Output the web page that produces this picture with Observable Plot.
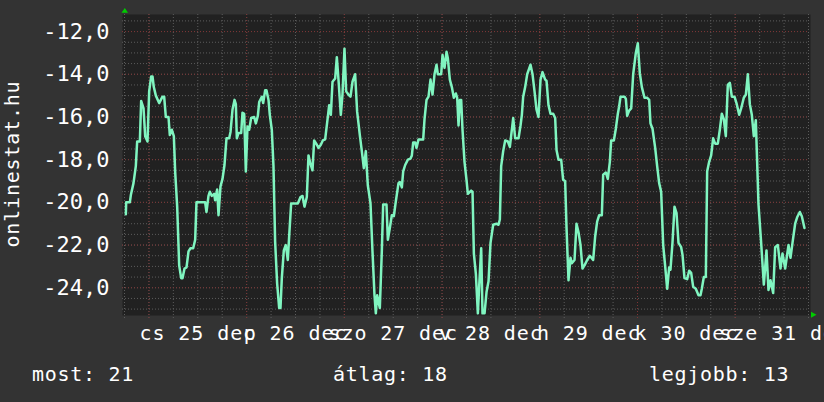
<!DOCTYPE html>
<html>
<head>
<meta charset="utf-8">
<script src="https://cdn.jsdelivr.net/npm/d3@7"></script>
<script src="https://cdn.jsdelivr.net/npm/@observablehq/plot@0.6"></script>
<style>
  html, body { margin: 0; padding: 0; background: #333333; overflow: hidden; }
  #chart svg { display: block; overflow: hidden; }
  g[aria-label="x-axis tick label"] text { letter-spacing: 0.9px; }
  .mono { font-family: "DejaVu Sans Mono", monospace; }
</style>
</head>
<body>
<div id="chart"></div>
<script>
// hours since Dec 24 18:00
const hours = [0.33,0.41,1.31,1.56,2.21,2.78,3.11,3.77,4.09,4.67,5.08,5.65,6.06,6.55,6.88,7.20,7.70,8.51,9.33,9.74,10.15,10.81,11.13,11.63,12.12,12.44,12.94,13.43,13.92,14.25,14.74,15.23,15.72,16.21,16.87,17.36,17.68,19.81,20.14,20.63,20.96,21.45,22.02,22.27,22.76,23.09,23.58,24.07,24.56,25.05,25.71,26.04,26.53,27.02,27.35,27.59,28.00,28.66,28.98,29.39,29.80,30.21,30.62,31.11,31.85,32.26,32.75,33.08,33.73,34.06,34.55,34.87,35.37,35.69,36.18,36.59,37.0,37.49,37.99,38.31,38.64,39.13,39.62,40.11,40.52,40.93,42.57,43.23,43.72,44.21,44.78,45.19,45.68,46.17,46.58,47.24,47.65,48.22,48.71,49.28,49.94,50.27,50.68,51.09,51.74,52.15,52.56,53.13,53.54,54.03,54.44,55.0,55.51,56.0,56.65,57.14,57.8,58.29,58.78,59.27,59.76,60.42,60.91,61.4,61.73,62.06,62.71,63.2,63.53,64.35,64.68,65.17,65.66,66.15,66.64,67.3,67.63,68.12,68.45,68.94,69.6,70.25,70.58,70.9,71.4,71.72,72.21,73.36,73.69,74.18,74.67,75.16,75.65,76.14,76.64,76.96,77.78,78.11,78.6,79.09,79.42,79.91,80.4,80.89,81.38,81.71,82.04,82.37,82.69,83.02,83.51,84.0,84.33,85.15,85.48,85.81,86.3,86.79,87.12,87.61,87.93,88.43,88.92,89.41,89.9,90.55,91.37,91.86,92.19,92.52,93.01,93.5,94.16,94.65,95.47,95.96,96.78,97.27,97.6,97.92,98.41,98.91,99.72,100.22,100.71,101.19,101.68,102.18,102.67,103.32,103.65,104.14,104.63,105.29,105.78,106.11,106.6,107.25,107.74,108.23,108.56,109.05,109.54,109.87,110.53,111.02,111.51,112.0,112.49,112.98,113.64,114.29,115.11,115.6,116.09,116.59,117.24,117.57,118.22,118.71,119.21,119.53,120.19,120.68,121.17,121.5,121.83,122.81,123.14,123.46,123.95,124.45,124.94,125.59,126.08,126.57,127.07,127.72,128.38,128.87,129.19,129.69,130.34,130.83,131.32,131.81,132.31,132.8,133.29,133.78,134.1,134.59,135.09,135.58,136.07,136.72,137.05,137.54,138.2,138.69,139.18,139.67,140.32,140.98,141.47,141.8,142.29,142.78,143.11,143.6,144.09,144.58,145.07,145.73,146.22,146.71,147.2,147.69,148.18,148.68,149.17,149.82,150.31,150.97,151.46,152.11,152.61,153.1,153.59,154.08,154.57,155.06,155.72,156.37,157.03,157.68,158.17,158.66,159.32,159.81,160.47,161.12,161.61,162.27,163.09,163.58,164.07,164.72,165.21,165.87,166.36,167.01];
const temps = [-20.56,-20.0,-20.0,-19.66,-19.1,-18.3,-17.15,-17.15,-15.25,-15.6,-16.9,-17.15,-14.8,-14.1,-14.1,-14.6,-15.0,-15.35,-15.05,-15.05,-16.0,-16.0,-16.85,-16.6,-16.9,-18.55,-20.2,-22.95,-23.55,-23.55,-23.1,-23.05,-22.3,-22.15,-22.15,-21.75,-20.0,-20.0,-20.45,-19.7,-19.5,-19.7,-19.6,-19.9,-19.4,-20.6,-19.25,-18.9,-18.25,-17.0,-17.0,-16.7,-15.65,-15.2,-15.4,-17.0,-16.75,-16.75,-15.8,-15.85,-18.55,-16.45,-16.6,-16.05,-16.0,-16.3,-15.95,-15.3,-15.05,-15.35,-14.75,-14.75,-15.2,-15.9,-16.6,-18.3,-21.85,-23.8,-24.95,-24.95,-23.55,-22.25,-22.0,-22.7,-21.35,-20.05,-20.05,-19.75,-19.7,-20.2,-19.75,-17.8,-18.2,-18.5,-17.1,-17.3,-17.45,-17.3,-17.1,-17.05,-16.0,-15.45,-15.9,-14.35,-14.2,-13.2,-14.25,-15.9,-14.95,-12.8,-14.8,-14.95,-15.05,-14.35,-14.0,-15.75,-16.85,-17.6,-18.4,-17.6,-19.2,-20.05,-22.3,-24.35,-25.2,-24.35,-24.95,-22.3,-20.1,-20.1,-21.75,-21.2,-20.6,-20.65,-19.95,-19.1,-19.05,-19.3,-18.55,-18.25,-18.0,-17.95,-17.8,-17.2,-17.2,-17.45,-17.05,-17.05,-16.1,-15.2,-15.05,-14.25,-14.95,-14.0,-13.55,-14.0,-14.0,-13.1,-13.7,-12.95,-13.25,-14.25,-14.6,-15.1,-14.9,-15.1,-16.4,-15.2,-15.2,-16.6,-18.1,-18.95,-19.6,-19.45,-19.5,-22.4,-23.35,-25.2,-23.9,-22.15,-25.2,-25.2,-24.2,-23.7,-21.9,-21.05,-21.0,-21.05,-20.8,-18.3,-17.6,-17.1,-17.15,-17.4,-16.05,-17.0,-17.0,-16.4,-15.9,-15.05,-14.6,-14.0,-13.55,-14.0,-14.8,-15.65,-16.0,-14.25,-13.9,-14.25,-14.3,-15.45,-15.85,-15.85,-16.05,-17.55,-18.0,-18.0,-18.95,-19.0,-21.15,-23.65,-22.6,-22.85,-22.7,-21.0,-21.4,-22.0,-23.1,-22.95,-22.7,-22.5,-22.7,-21.6,-20.9,-20.6,-20.6,-18.7,-18.6,-18.9,-18.1,-17.1,-17.1,-16.55,-15.85,-15.5,-15.05,-15.05,-15.15,-15.95,-15.7,-15.6,-14.0,-13.0,-12.55,-13.95,-14.6,-15.1,-15.1,-15.2,-16.3,-16.55,-17.45,-18.3,-19.1,-19.5,-22.0,-23.0,-24.05,-23.05,-23.15,-21.9,-20.2,-20.5,-21.9,-22.1,-22.45,-23.55,-23.6,-23.2,-23.3,-23.95,-24.05,-24.35,-24.35,-24.05,-23.5,-23.5,-18.55,-18.1,-17.8,-17.0,-17.25,-17.25,-16.6,-15.85,-16.1,-16.9,-14.5,-14.4,-15.05,-15.05,-15.35,-15.9,-15.6,-15.1,-14.95,-14.0,-15.4,-15.9,-16.9,-16.15,-20.1,-21.9,-23.85,-22.25,-24.1,-23.65,-24.25,-22.1,-22.0,-23.1,-22.4,-23.1,-22.0,-22.6,-21.9,-21.0,-20.7,-20.45,-20.65,-21.2];

const dayTickHours = [18, 42, 66, 90, 114, 138, 162];
const dayTickLabels = ["cs 25 dec", "p 26 dec", "szo 27 dec", "v 28 dec", "h 29 dec", "k 30 dec", "sze 31 dec"];
const midnightHours = [6, 30, 54, 78, 102, 126, 150];
const sixHourGrid = d3.range(0, 169, 6);
const yTicks = [-24, -22, -20, -18, -16, -14, -12];
const yMinorGrid = d3.range(-25, -11.4, 0.5);
const yTitle = "onlinestat.hu";
const summaryLabels = ["most", "átlag", "legjobb"];
const summaryValues = [21, 18, 13];

const points = hours.map((h, i) => ({h, t: temps[i]}));
const fmtY = d => d.toFixed(1).replace(".", ",");

const chart = Plot.plot({
  width: 824,
  height: 402,
  marginLeft: 124,
  marginRight: 16,
  marginTop: 14,
  marginBottom: 87,
  style: {background: "#333333", color: "#ffffff", fontFamily: "DejaVu Sans Mono, monospace", fontSize: "20px"},
  x: {domain: [0, 168]},
  y: {domain: [-25.3, -11.2]},
  marks: [
    Plot.frame({fill: "#212121", stroke: null, insetLeft: -2, insetRight: -2}),
    Plot.ruleY(yMinorGrid, {stroke: "#5c5c5c", strokeDasharray: "1,2", insetLeft: -2}),
    Plot.ruleX(sixHourGrid, {stroke: "#5c5c5c", strokeDasharray: "1,2", insetBottom: -3}),
    Plot.ruleY(yTicks, {stroke: "#7c3434", strokeDasharray: "1,2", insetLeft: -2}),
    Plot.ruleX(midnightHours, {stroke: "#7c3434", strokeDasharray: "1,2", insetBottom: -3}),
    Plot.line(points, {x: "h", y: "t", stroke: "#80f5c0", strokeWidth: 2.5, curve: "linear"}),
    Plot.axisX({ticks: dayTickHours, tickFormat: d => dayTickLabels[dayTickHours.indexOf(d)], tickSize: 0, tickPadding: 10, fontSize: 20, fill: "#ffffff", label: null}),
    Plot.axisY({ticks: yTicks, tickFormat: fmtY, tickSize: 0, tickPadding: 15, fontSize: 22, fill: "#ffffff", label: null})
  ]
});

document.getElementById("chart").appendChild(chart);

const svg = d3.select(chart);
// y title
svg.append("text")
  .attr("class", "mono")
  .attr("transform", "translate(19,164) rotate(-90)")
  .attr("text-anchor", "middle")
  .attr("fill", "#ffffff")
  .attr("font-size", 20)
  .style("letter-spacing", "0.8px")
  .text(yTitle);

// summary line
const summaryX = [32, 333, 649];
summaryLabels.forEach((lab, i) => {
  svg.append("text")
    .attr("class", "mono")
    .attr("x", summaryX[i])
    .attr("y", 381)
    .attr("text-anchor", "start")
    .attr("fill", "#ffffff")
    .attr("font-size", 20)
    .style("letter-spacing", "0.7px")
    .text(lab + ": " + summaryValues[i]);
});

// axis arrows
svg.append("path").attr("d", "M121.5,12.8 L128,12.8 L124.8,8 Z").attr("fill", "#00cc00");
svg.append("path").attr("d", "M811,311.8 L811,317.8 L816.5,314.8 Z").attr("fill", "#00cc00");
</script>
</body>
</html>
